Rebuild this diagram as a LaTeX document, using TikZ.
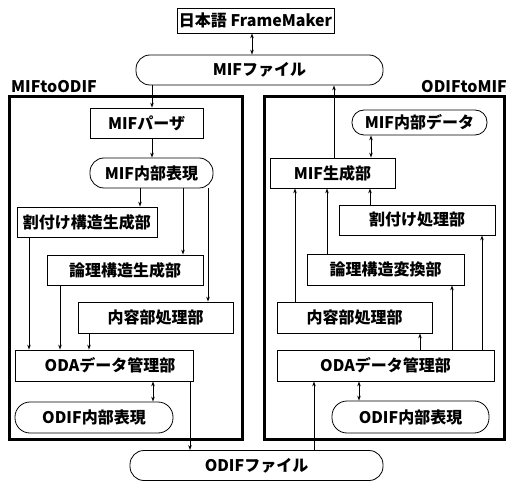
\documentclass[tikz,border=0pt]{standalone}
\usepackage{fontspec}
\setmainfont{Noto Sans CJK JP}
\usetikzlibrary{arrows.meta}
\begin{document}
\begin{tikzpicture}[x=1pt,y=-1pt,
  box/.style={draw, line width=0.8pt, inner sep=0pt, font=\fontsize{16}{18}\selectfont\bfseries},
  rbox/.style={box, rounded corners=14pt},
  frame/.style={draw, line width=3pt},
  lbl/.style={inner sep=0pt, font=\fontsize{16}{18}\selectfont\bfseries},
  con/.style={line width=0.8pt, -{Stealth[length=5pt,width=3.5pt]}},
  dcon/.style={line width=0.8pt, {Stealth[length=5pt,width=3.5pt]}-{Stealth[length=5pt,width=3.5pt]}}]
\useasboundingbox (0,0) rectangle (517,481);
% frames
\draw[frame] (9,97) rectangle (242,439);
\draw[frame] (264,97) rectangle (504,439);
\node[lbl, anchor=base west] (lblL) at (11,93) {MIFtoODIF};
\node[lbl, anchor=base east] (lblR) at (507,93) {ODIFtoMIF};
% top
\node[box, minimum width=157pt, minimum height=25pt] (fm) at (255.5,20.5) {日本語 FrameMaker};
\node[rbox, minimum width=247pt, minimum height=30pt] (miff) at (259.5,70) {MIFファイル\hspace{14pt}};
\node[rbox, minimum width=253pt, minimum height=30pt] (odiff) at (256.5,465.5) {ODIFファイル\hspace{20pt}};
% left
\node[box, minimum width=113pt, minimum height=30pt] (mifp) at (146.5,123) {MIFパーザ};
\node[rbox, minimum width=123pt, minimum height=30pt] (mifrep) at (151.5,173) {MIF内部表現};
\node[box, minimum width=140pt, minimum height=30pt] (wari) at (87,222) {割付け構造生成部};
\node[box, minimum width=156pt, minimum height=30pt] (ronri) at (125,270) {論理構造生成部};
\node[box, minimum width=155pt, minimum height=31pt] (naiyo) at (155.5,317.5) {内容部処理部};
\node[box, minimum width=178pt, minimum height=31pt] (odaL) at (104,365.5) {\hspace{12pt}ODAデータ管理部};
\node[rbox, minimum width=158pt, minimum height=31pt, rounded corners=15pt] (odifL) at (94,417.5) {ODIF内部表現};
% right
\node[rbox, minimum width=135pt, minimum height=25pt, rounded corners=12pt] (mifdata) at (419.5,122.5) {MIF内部データ};
\node[box, minimum width=125pt, minimum height=30pt] (mifgen) at (332.5,173) {MIF生成部};
\node[box, minimum width=156pt, minimum height=30pt] (wariR) at (417,220) {割付け処理部};
\node[box, minimum width=157pt, minimum height=31pt] (ronriR) at (385.5,269.5) {論理構造変換部};
\node[box, minimum width=155pt, minimum height=31pt] (naiyoR) at (354.5,317.5) {内容部処理部};
\node[box, minimum width=217pt, minimum height=31pt] (odaR) at (385.5,365.5) {ODAデータ管理部\hspace{44pt}};
\node[rbox, minimum width=157pt, minimum height=32pt, rounded corners=15pt] (odifR) at (410.5,417) {ODIF内部表現};
% x positions
\foreach \n/\v in {a/252,b/152,c/140,d/183,e/208,f/29,g/60,h/89,i/153,j/190,k/334,l/371,m/295,n/327,o/370,p/482,q/452,r/420,s/359,t/314}
  \coordinate (x\n) at (\v,0);
% connectors
\draw[dcon] (fm.south -| xa) -- (miff.north -| xa);
\draw[con] (miff.south -| xb) -- (mifp.north -| xb);
\draw[con] (mifp.south -| xb) -- (mifrep.north -| xb);
\draw[con] (mifrep.south -| xc) -- (wari.north -| xc);
\draw[con] (mifrep.south -| xd) -- (ronri.north -| xd);
\draw[con] (mifrep.south -| xe) -- (naiyo.north -| xe);
\draw[con] (wari.south -| xf) -- (odaL.north -| xf);
\draw[con] (ronri.south -| xg) -- (odaL.north -| xg);
\draw[con] (naiyo.south -| xh) -- (odaL.north -| xh);
\draw[dcon] (odaL.south -| xi) -- (odifL.north -| xi);
\draw[con] (odaL.south -| xj) -- (odiff.north -| xj);
\draw[con] (mifgen.north -| xk) -- (miff.south -| xk);
\draw[dcon] (mifdata.south -| xl) -- (mifgen.north -| xl);
\draw[con] (naiyoR.north -| xm) -- (mifgen.south -| xm);
\draw[con] (ronriR.north -| xn) -- (mifgen.south -| xn);
\draw[con] (wariR.north -| xo) -- (mifgen.south -| xo);
\draw[con] (odaR.north -| xp) -- (wariR.south -| xp);
\draw[con] (odaR.north -| xq) -- (ronriR.south -| xq);
\draw[con] (odaR.north -| xr) -- (naiyoR.south -| xr);
\draw[dcon] (odaR.south -| xs) -- (odifR.north -| xs);
\draw[con] (odiff.north -| xt) -- (odaR.south -| xt);
\end{tikzpicture}
\end{document}
